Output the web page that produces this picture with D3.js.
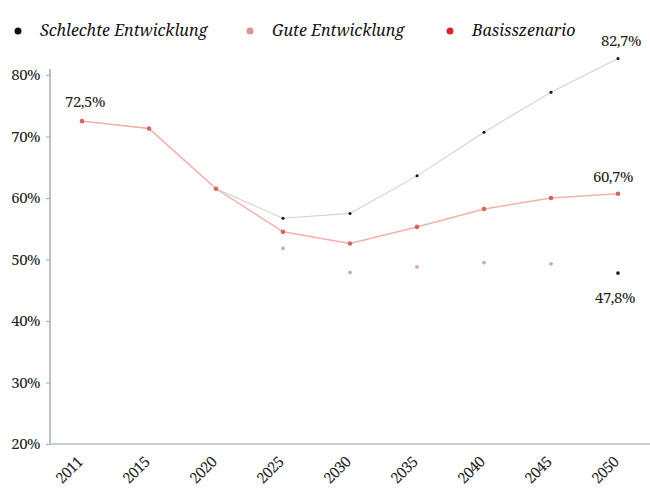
<!DOCTYPE html>
<html>
<head>
<meta charset="utf-8">
<script src="https://cdn.jsdelivr.net/npm/d3@7"></script>
<style>
  html, body { margin: 0; padding: 0; background: #fff; }
  svg { display: block; }
</style>
</head>
<body>
<svg id="chart" width="650" height="490"></svg>
<script>
// Anteil je Szenario, in Prozent
const years = ["2011", "2015", "2020", "2025", "2030", "2035", "2040", "2045", "2050"];
const schlecht = [72.5, 71.3, 61.5, 56.7, 57.5, 63.6, 70.7, 77.2, 82.7];
const gut = [72.5, 71.3, 61.5, 51.8, 47.9, 48.8, 49.5, 49.3, 47.8];
const basis = [72.5, 71.3, 61.5, 54.5, 52.6, 55.3, 58.2, 60.0, 60.7];
const yTicks = [20, 30, 40, 50, 60, 70, 80];

const legendItems = [
  { label: "Schlechte Entwicklung", color: "#111" },
  { label: "Gute Entwicklung", color: "#e0928a" },
  { label: "Basisszenario", color: "#d8262c" }
];

// Beschriftete Werte: Serie, Index, Versatz
const labels = [
  { series: basis, i: 0, dx: 3, dy: -14 },
  { series: schlecht, i: 8, dx: 3, dy: -12 },
  { series: basis, i: 8, dx: -5, dy: -12 },
  { series: gut, i: 8, dx: -3, dy: 30 }
];

const FONT = "'Noto Serif', 'Liberation Serif', serif";
const svg = d3.select("#chart");

const x = d3.scalePoint().domain(years).range([82, 618]);
const y = d3.scaleLinear().domain([20, 80]).range([444, 75]);

const fmt = v => d3.format(".1f")(v).replace(".", ",") + "%";

// Y-Achse
const yAxis = svg.append("g")
  .attr("transform", "translate(50,0)")
  .call(d3.axisLeft(y).tickValues(yTicks).tickSize(4).tickPadding(6).tickFormat(d => d + "%"));
yAxis.select(".domain").attr("stroke", "#a3adb0").attr("stroke-width", 1.5)
  .attr("d", `M0,${y(80) - 6}V${y(20)}`);
yAxis.selectAll(".tick line").attr("stroke", "#9fb0b0");
yAxis.selectAll(".tick text").attr("fill", "#222")
  .style("font-size", "15px")
  .style("font-family", FONT)
  .style("letter-spacing", "-0.5px");

// X-Achse
const xAxis = svg.append("g")
  .attr("transform", "translate(0,444)")
  .call(d3.axisBottom(x).tickSize(0).tickPadding(0));
xAxis.select(".domain").attr("stroke", "#b0c2cc").attr("stroke-width", 1.5)
  .attr("d", "M50,0H650");
xAxis.selectAll(".tick text")
  .attr("fill", "#222")
  .style("font-size", "15px")
  .style("font-family", FONT)
  .style("letter-spacing", "-0.8px")
  .attr("text-anchor", "end")
  .attr("dy", null)
  .attr("y", null)
  .attr("transform", "translate(-8,10) rotate(-45)")
  .attr("dominant-baseline", "hanging");

// Linien
const line = d3.line().x((d, i) => x(years[i])).y(d => y(d));

svg.append("path").datum(schlecht)
  .attr("d", line).attr("fill", "none")
  .attr("stroke", "#d2d2d2").attr("stroke-width", 1.1);

svg.append("path").datum(basis)
  .attr("d", line).attr("fill", "none")
  .attr("stroke", "#f4b0ac").attr("stroke-width", 1.5);

// Punkte
svg.append("g").selectAll("circle").data(gut.slice(3))
  .join("circle")
  .attr("cx", (d, i) => x(years[i + 3]))
  .attr("cy", d => y(d))
  .attr("r", 1.9)
  .attr("fill", (d, i) => i === 5 ? "#222" : "#d9a8a2");

svg.append("g").selectAll("circle").data(basis)
  .join("circle")
  .attr("cx", (d, i) => x(years[i]))
  .attr("cy", d => y(d))
  .attr("r", 2.3)
  .attr("fill", "#d46662");

svg.append("g").selectAll("circle").data(schlecht.slice(3))
  .join("circle")
  .attr("cx", (d, i) => x(years[i + 3]))
  .attr("cy", d => y(d))
  .attr("r", 1.5)
  .attr("fill", "#111");

// Wertbeschriftungen
svg.append("g").selectAll("text").data(labels)
  .join("text")
  .attr("x", d => x(years[d.i]) + d.dx)
  .attr("y", d => y(d.series[d.i]) + d.dy)
  .attr("text-anchor", "middle")
  .attr("fill", "#222")
  .style("font-size", "15px")
  .style("font-family", FONT)
  .style("letter-spacing", "-0.5px")
  .text(d => fmt(d.series[d.i]));

// Legende
const legendX = [18, 250, 450];
const legend = svg.append("g").selectAll("g").data(legendItems)
  .join("g")
  .attr("transform", (d, i) => `translate(${legendX[i]},31)`);
legend.append("circle").attr("r", 3.5).attr("fill", d => d.color);
legend.append("text")
  .attr("x", 22).attr("y", 5)
  .attr("fill", "#111")
  .style("font-size", "16px")
  .style("font-family", FONT)
  .style("font-style", "italic")
  .text(d => d.label);
</script>
</body>
</html>
